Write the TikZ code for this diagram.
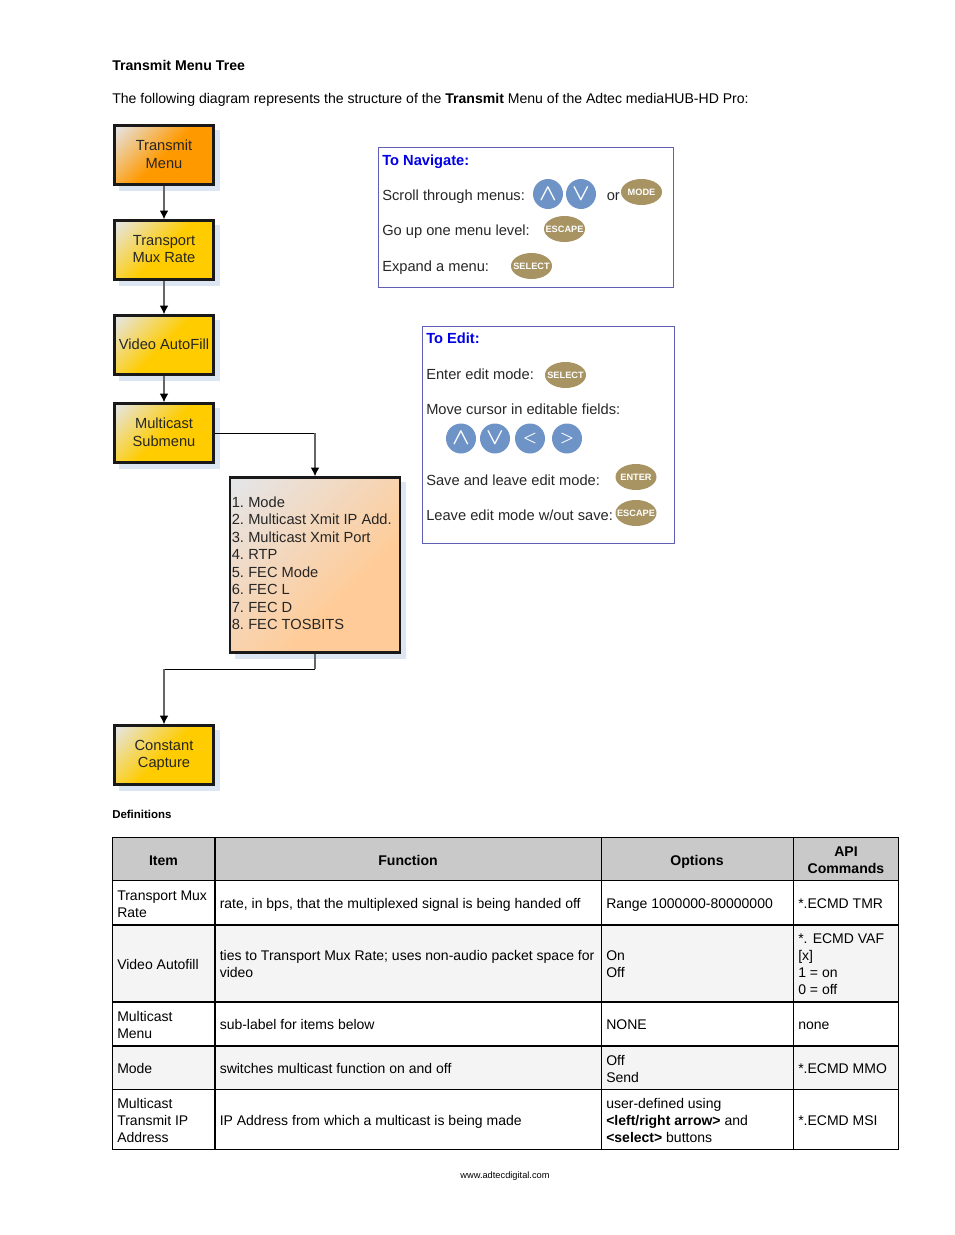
\documentclass[tikz,border=0pt]{standalone}
\usepackage{fontspec}
\setmainfont{Liberation Sans}
\usepackage{tikz}
\usepackage{xcolor}
\usetikzlibrary{shapes.geometric,arrows.meta,positioning}
\definecolor{shadowblue}{HTML}{DCE6F2}
\definecolor{framebl}{HTML}{5F5FB5}
\definecolor{keyblue}{HTML}{6E93C6}
\definecolor{keygold}{HTML}{A89463}
\definecolor{headgray}{HTML}{C9C9C9}
\definecolor{rowgray}{HTML}{F4F4F4}
\definecolor{fadegray}{HTML}{E4E6EA}
\definecolor{boxgold}{HTML}{FFCC00}
\definecolor{boxorange}{HTML}{FF9900}
\definecolor{boxpeach}{HTML}{FFCC99}
\pgfdeclareverticalshading{goldfade}{100bp}{color(0bp)=(boxgold);color(50bp)=(boxgold);color(85bp)=(fadegray);color(100bp)=(fadegray)}
\pgfdeclareverticalshading{orangefade}{100bp}{color(0bp)=(boxorange);color(50bp)=(boxorange);color(85bp)=(fadegray);color(100bp)=(fadegray)}
\pgfdeclareverticalshading{peachfade}{100bp}{color(0bp)=(boxpeach);color(38bp)=(boxpeach);color(85bp)=(fadegray);color(100bp)=(fadegray)}
\newlength{\pxu}
\setlength{\pxu}{0.75pt}
\tikzset{
  px/.style={x=0.75pt,y=-0.75pt},
  menubox/.style={draw=black!90,line width=1.7pt,minimum width=99\pxu,minimum height=59\pxu,
    inner sep=0pt,align=center,font=\fontsize{11}{13.2}\selectfont,text=black!85,text depth=1.5pt,shading angle=45},
  yellowbox/.style={menubox,shading=goldfade},
  orangebox/.style={menubox,shading=orangefade},
  peachbox/.style={menubox,shading=peachfade},
  link/.style={draw=black!60,line width=1.1pt,-{Latex[length=6.5pt,width=6.5pt,black]}},
  thinlink/.style={draw=black,line width=0.5pt},
  hintbox/.style={draw=framebl,line width=0.7pt},
  hinttext/.style={anchor=base west,inner sep=0pt,font=\fontsize{11}{13}\selectfont,text=black!85},
  hinthead/.style={anchor=base west,inner sep=0pt,font=\bfseries\fontsize{11}{13}\selectfont,text=blue!90!black},
  arrowkey/.style={circle,fill=keyblue,minimum size=30\pxu,inner sep=0pt,text=white,font=\boldmath\fontsize{16}{16}\selectfont},
  sidekey/.style={arrowkey,font=\boldmath\fontsize{12.5}{13}\selectfont},
  goldkey/.style={ellipse,fill=keygold,minimum width=41\pxu,minimum height=26\pxu,inner sep=0pt,
    text=white,font=\bfseries\fontsize{6.9}{7}\selectfont},
  pagetext/.style={anchor=base west,inner sep=0pt,font=\fontsize{10.55}{12}\selectfont},
  cell/.style={anchor=west,inner sep=0pt,align=left,font=\fontsize{10.5}{12.6}\selectfont},
  oneline/.style={cell,text height=7.6pt,text depth=2.2pt},
  headcell/.style={anchor=center,inner sep=0pt,align=center,font=\bfseries\fontsize{10.55}{12.6}\selectfont},
}
\newcommand{\keylabel}[1]{\makebox[0pt]{#1}}
\begin{document}
\begin{tikzpicture}[px]
  \useasboundingbox (0,0) rectangle (954,1235);
  % page heading
  \node[pagetext,font=\bfseries\fontsize{10.6}{12}\selectfont] (title) at (112,70) {Transmit Menu Tree};
  \node[pagetext] (intro) at (112,103) {The following diagram represents the structure of the \textbf{Transmit} Menu of the Adtec mediaHUB-HD Pro:};
  % shadows
  \foreach \ytop/\ybot in {130/191,225/286,320/381,408/469,730/791}
    \fill[shadowblue] (119,\ytop) rectangle (220,\ybot);
  \fill[shadowblue] (235,482) rectangle (406,659);
  % menu boxes
  \node[orangebox] (xmit) at (164,155) {Transmit\\Menu};
  \node[yellowbox] (mux) at (164,250) {Transport\\Mux Rate};
  \node[yellowbox] (fill) at (164,345) {Video AutoFill};
  \node[yellowbox] (multi) at (164,433) {Multicast\\Submenu};
  \node[peachbox,minimum width=170\pxu,minimum height=175\pxu] (items) at (315,565) {};
  \node[yellowbox] (capture) at (164,755) {Constant\\Capture};
  \foreach \n/\t [count=\k from 0] in {1/Mode,2/Multicast Xmit IP Add.,3/Multicast Xmit Port,4/RTP,5/FEC Mode,6/FEC L,7/FEC D,8/FEC TOSBITS}{
    \node[hinttext] (num\n) at (231.5,507+\k*17.55) {\n.};
    \node[hinttext] (lab\n) at (248,507+\k*17.55) {\t};
  }
  % connectors
  \draw[link] (xmit) -- (mux);
  \draw[link] (mux) -- (fill);
  \draw[link] (fill) -- (multi);
  \coordinate (turn) at (items.north |- multi.east);
  \draw[thinlink] (multi.east) -- (turn);
  \draw[link] (turn) -- (items.north);
  \coordinate (bend) at (315,669);
  \coordinate (drop) at (capture.north |- bend);
  \draw[link,-] (items.south) -- (bend);
  \draw[thinlink] (bend) -- (drop);
  \draw[link] (drop) -- (capture.north);
  % navigate panel
  \draw[hintbox] (378.5,147.5) rectangle (673,287.5);
  \node[hinthead] (navhead) at (382,165) {To Navigate:};
  \node[hinttext] (navscroll) at (382,200) {Scroll through menus:};
  \node[hinttext] (navup) at (382,235) {Go up one menu level:};
  \node[hinttext] (navexp) at (382,271) {Expand a menu:};
  \node[hinttext] (navor) at (606.5,200) {or};
  \node[arrowkey] (navk1) at (548,194) {$\wedge$};
  \node[arrowkey] (navk2) at (581,194) {$\vee$};
  \node[goldkey] (navmode) at (641.5,192) {\keylabel{MODE}};
  \node[goldkey] (navesc) at (564.5,229) {\keylabel{ESCAPE}};
  \node[goldkey] (navsel) at (531.5,266) {\keylabel{SELECT}};
  % edit panel
  \draw[hintbox] (422.5,326.5) rectangle (674.5,543);
  \node[hinthead] (edhead) at (426,343.5) {To Edit:};
  \node[hinttext] (edenter) at (426,379) {Enter edit mode:};
  \node[hinttext] (edmove) at (426,414) {Move cursor in editable fields:};
  \node[hinttext] (edsave) at (426,485) {Save and leave edit mode:};
  \node[hinttext] (edleave) at (426,520) {Leave edit mode w/out save:};
  \node[goldkey] (edsel) at (565.5,375) {\keylabel{SELECT}};
  \node[arrowkey] (edk1) at (461,438.5) {$\wedge$};
  \node[arrowkey] (edk2) at (495,438.5) {$\vee$};
  \node[sidekey] (edk3) at (530,438.5) {$<$};
  \node[sidekey] (edk4) at (567,438.5) {$>$};
  \node[goldkey] (edent) at (636,477) {\keylabel{ENTER}};
  \node[goldkey] (edesc) at (636,513) {\keylabel{ESCAPE}};
  % definitions table
  \node[pagetext,font=\bfseries\fontsize{8.6}{10}\selectfont] (defs) at (112,818) {Definitions};
  \fill[headgray] (112,837.5) rectangle (898.5,880.5);
  \fill[rowgray] (112,925) rectangle (898.5,1002);
  \fill[rowgray] (112,1046) rectangle (898.5,1089.5);
  \draw[line width=0.75pt] (112.5,837.5) rectangle (898.5,1149.5);
  \foreach \yy/\lw in {880.5/1.4,925/1.6,1002/1.6,1046/1.6,1089.5/0.75}
    \draw[line width=\lw pt] (112,\yy) -- (899,\yy);
  \foreach \xx in {215,601.5,793.5}
    \draw[line width=1.4pt] (\xx,837.5) -- (\xx,1149.5);
  \node[headcell,text height=7.6pt,text depth=2.2pt] (hitem) at (163.5,861.5) {Item};
  \node[headcell,text height=7.6pt,text depth=2.2pt] (hfunc) at (408,861.5) {Function};
  \node[headcell,text height=7.6pt,text depth=2.2pt] (hopt) at (697,861.5) {Options};
  \node[headcell] (hapi) at (846,860) {API\\Commands};
  \node[cell] (c11) at (117,904.5) {Transport Mux\\Rate};
  \node[oneline] (c12) at (219.5,904.4) {rate, in bps, that the multiplexed signal is being handed off};
  \node[oneline] (c13) at (606,904.4) {Range 1000000-80000000};
  \node[oneline] (c14) at (798,904.4) {*.ECMD TMR};
  \node[oneline] (c21) at (117,965.6) {Video Autofill};
  \node[cell] (c22) at (219.5,964) {ties to Transport Mux Rate; uses non-audio packet space for\\video};
  \node[cell] (c23) at (606,964) {On\\Off};
  \node[cell] (c24) at (798,964) {*. ECMD VAF\\{[x]}\\1 = on\\0 = off};
  \node[cell] (c31) at (117,1025) {Multicast\\Menu};
  \node[oneline] (c32) at (219.5,1025.6) {sub-label for items below};
  \node[oneline] (c33) at (606,1025.6) {NONE};
  \node[oneline] (c34) at (798,1025.6) {none};
  \node[oneline] (c41) at (117,1069.6) {Mode};
  \node[oneline] (c42) at (219.5,1069.6) {switches multicast function on and off};
  \node[cell] (c43) at (606,1069) {Off\\Send};
  \node[oneline] (c44) at (798,1069.6) {*.ECMD MMO};
  \node[cell] (c51) at (117,1120.5) {Multicast\\Transmit IP\\Address};
  \node[oneline] (c52) at (219.5,1122) {IP Address from which a multicast is being made};
  \node[cell] (c53) at (606,1120.5) {user-defined using\\\textbf{<left/right arrow>} and\\\textbf{<select>} buttons};
  \node[oneline] (c54) at (798,1122) {*.ECMD MSI};
  % footer
  \node[anchor=base,inner sep=0pt,font=\fontsize{6.95}{8}\selectfont] (foot) at (505,1178) {www.adtecdigital.com};
\end{tikzpicture}
\end{document}
